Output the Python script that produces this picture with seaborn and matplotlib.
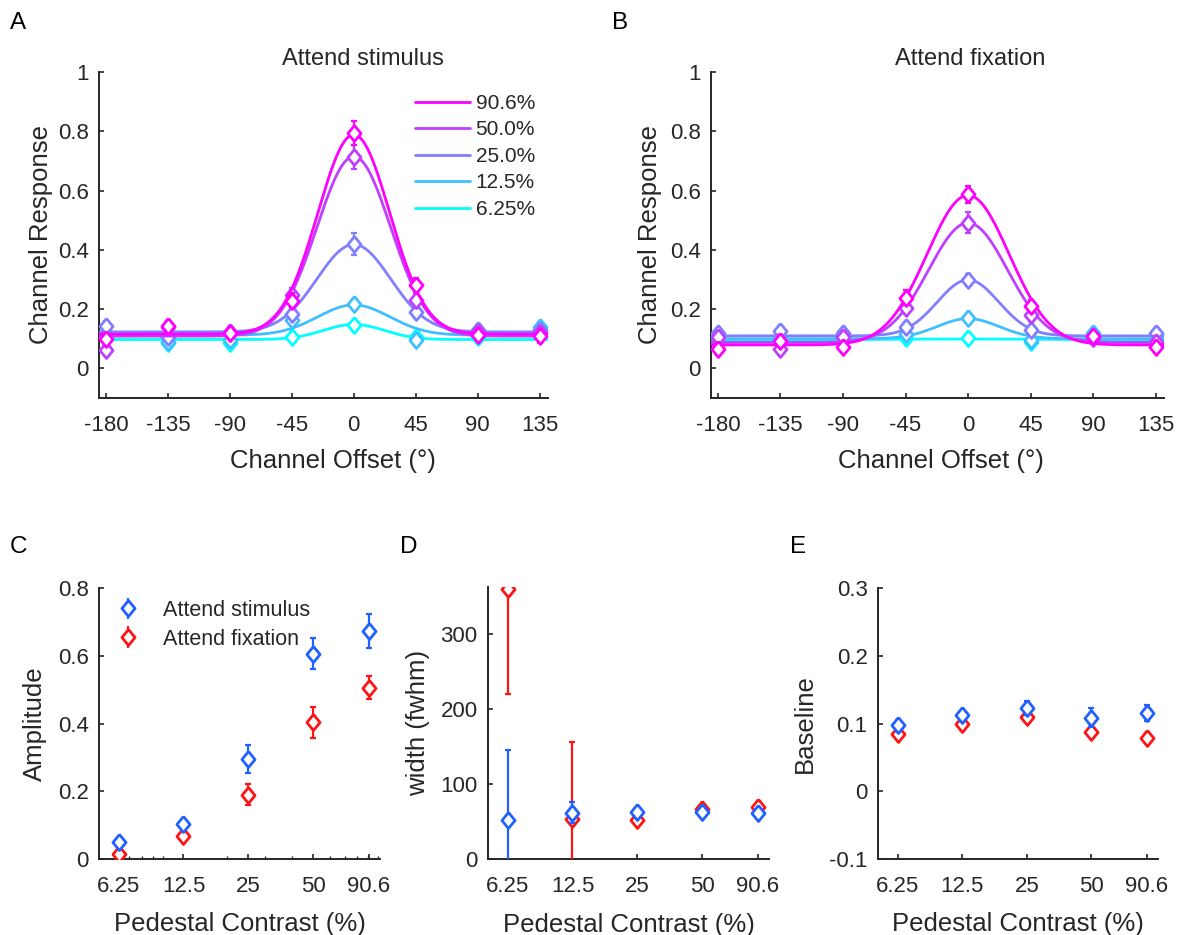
import numpy as np
import pandas as pd
import matplotlib
matplotlib.use("Agg")
import matplotlib.pyplot as plt
import seaborn as sns
from matplotlib.lines import Line2D
from matplotlib.ticker import FixedLocator, FuncFormatter, LogLocator, NullLocator

# ---------------- data ----------------
offsets = [-180, -135, -90, -45, 0, 45, 90, 135]
contrast_labels = ["6.25%", "12.5%", "25.0%", "50.0%", "90.6%"]
contrasts = [6.25, 12.5, 25, 50, 90.6]
contrast_ticklabels = ["6.25", "12.5", "25", "50", "90.6"]

# Panel A: attend stimulus channel responses (mean, sem)
stim_625 = [0.107, 0.087, 0.087, 0.107, 0.146, 0.105, 0.107, 0.124]
stim_125 = [0.120, 0.090, 0.095, 0.163, 0.216, 0.095, 0.118, 0.140]
stim_250 = [0.144, 0.107, 0.120, 0.185, 0.420, 0.190, 0.130, 0.130]
stim_500 = [0.062, 0.140, 0.124, 0.247, 0.713, 0.230, 0.124, 0.118]
stim_906 = [0.098, 0.143, 0.120, 0.228, 0.794, 0.281, 0.111, 0.109]
stim_625_err = [0.010, 0.010, 0.010, 0.010, 0.015, 0.012, 0.010, 0.012]
stim_125_err = [0.012, 0.010, 0.010, 0.012, 0.015, 0.012, 0.012, 0.015]
stim_250_err = [0.015, 0.012, 0.012, 0.020, 0.036, 0.020, 0.015, 0.015]
stim_500_err = [0.015, 0.015, 0.015, 0.025, 0.040, 0.025, 0.015, 0.018]
stim_906_err = [0.020, 0.018, 0.015, 0.025, 0.040, 0.025, 0.020, 0.025]

# Panel B: attend fixation channel responses (mean, sem)
fix_625 = [0.090, 0.096, 0.096, 0.101, 0.103, 0.090, 0.107, 0.098]
fix_125 = [0.101, 0.107, 0.109, 0.116, 0.169, 0.096, 0.118, 0.112]
fix_250 = [0.118, 0.127, 0.118, 0.140, 0.298, 0.131, 0.107, 0.120]
fix_500 = [0.107, 0.064, 0.105, 0.202, 0.491, 0.180, 0.101, 0.090]
fix_906 = [0.064, 0.093, 0.073, 0.239, 0.587, 0.211, 0.109, 0.071]
fix_625_err = [0.010, 0.010, 0.010, 0.010, 0.010, 0.010, 0.010, 0.010]
fix_125_err = [0.012, 0.012, 0.010, 0.012, 0.015, 0.012, 0.012, 0.012]
fix_250_err = [0.015, 0.015, 0.012, 0.015, 0.020, 0.015, 0.015, 0.015]
fix_500_err = [0.015, 0.018, 0.015, 0.020, 0.035, 0.020, 0.015, 0.018]
fix_906_err = [0.020, 0.018, 0.015, 0.025, 0.030, 0.020, 0.018, 0.020]

# Panels C-E: fitted parameters (mean, sem)
amp_stim = [0.051, 0.102, 0.295, 0.606, 0.673]
amp_stim_err = [0.010, 0.012, 0.042, 0.046, 0.049]
amp_fix = [0.014, 0.068, 0.189, 0.403, 0.505]
amp_fix_err = [0.010, 0.010, 0.031, 0.045, 0.034]

width_stim = [52, 61.6, 63, 63, 61.6]
width_stim_err = [93, 14, 3, 4, 4]
width_fix = [360, 52.7, 52, 67, 69.6]
width_fix_err = [140, 103, 3, 3, 3]

base_stim = [0.0973, 0.112, 0.123, 0.1086, 0.1155]
base_stim_err = [0.008, 0.007, 0.010, 0.014, 0.012]
base_fix = [0.085, 0.0998, 0.1096, 0.0875, 0.079]
base_fix_err = [0.006, 0.010, 0.008, 0.008, 0.007]

# ---------------- style ----------------
sns.set_theme(style="ticks")
TXT = "#262626"
plt.rcParams["font.family"] = ["Liberation Sans", "DejaVu Sans"]
plt.rcParams.update({
    "axes.unicode_minus": False,
    "text.color": TXT,
    "axes.labelcolor": TXT,
    "axes.edgecolor": TXT,
    "xtick.color": TXT,
    "ytick.color": TXT,
    "axes.linewidth": 1.4,
    "xtick.direction": "in",
    "ytick.direction": "in",
    "xtick.major.size": 3.5,
    "ytick.major.size": 3.5,
    "xtick.minor.size": 2.0,
    "xtick.major.width": 1.2,
    "ytick.major.width": 1.2,
    "xtick.minor.width": 1.0,
    "xtick.major.pad": 12.5,
    "xtick.minor.pad": 12.5,
    "ytick.major.pad": 7.5,
    "xtick.labelsize": 16,
    "ytick.labelsize": 16,
    "axes.labelsize": 18.5,
})

cool = plt.get_cmap("cool")
palette = {lab: cool(i / 4) for i, lab in enumerate(contrast_labels)}
BLUE = "#2161FF"
RED = "#FF1414"
DIAMOND = [(0, 1), (0.82, 0), (0, -1), (-0.82, 0), (0, 1)]
MS = 11.5
MEW = 2.0

W, H = 1194, 935
fig = plt.figure(figsize=(W / 100, H / 100), dpi=100)


def px_axes(l, t, r, b):
    return fig.add_axes([l / W, 1 - b / H, (r - l) / W, (b - t) / H])


gfmt = FuncFormatter(lambda v, p: "%g" % v)


def gauss(x, base, amp, fwhm):
    return base + amp * np.exp(-4 * np.log(2) * x ** 2 / fwhm ** 2)


def tuning_panel(ax, pts, errs, amps, widths, bases, title, title_x, ylab_x, xlab_x):
    xgrid = np.linspace(-185, 141, 500)
    frames = []
    for i, lab in enumerate(contrast_labels):
        frames.append(pd.DataFrame({
            "offset": xgrid,
            "resp": gauss(xgrid, bases[i], amps[i], widths[i]),
            "contrast": lab,
        }))
    curves = pd.concat(frames, ignore_index=True)
    for i, lab in enumerate(contrast_labels):
        sns.lineplot(data=curves[curves["contrast"] == lab], x="offset", y="resp",
                     color=palette[lab], lw=2.0, ax=ax, legend=False,
                     estimator=None, zorder=2 + 2 * i)
        ax.errorbar(offsets, pts[i], yerr=errs[i], fmt="none", ecolor=palette[lab],
                    elinewidth=1.6, capsize=2.2, capthick=1.6, zorder=3 + 2 * i)
        ax.plot(offsets, pts[i], ls="none", marker=DIAMOND, ms=MS, mfc="white",
                mec=palette[lab], mew=MEW, zorder=3 + 2 * i)
    ax.set_xlim(-185, 141)
    ax.set_ylim(-0.1, 1.0)
    ax.xaxis.set_major_locator(FixedLocator(offsets))
    ax.yaxis.set_major_locator(FixedLocator([0, 0.2, 0.4, 0.6, 0.8, 1.0]))
    ax.xaxis.set_major_formatter(gfmt)
    ax.yaxis.set_major_formatter(gfmt)
    ax.set_xlabel("Channel Offset (°)")
    ax.set_ylabel("Channel Response")
    ax.yaxis.set_label_coords(ylab_x, 0.5)
    ax.xaxis.set_label_coords(xlab_x, -0.157)
    ax.text(title_x, 1.021, title, transform=ax.transAxes, ha="center",
            va="baseline", fontsize=17, color=TXT)
    sns.despine(ax=ax)


def param_panel(ax, stim, stim_err, fix, fix_err, ylim, yticks, ylabel, ylab_x, minor=False):
    ax.set_xscale("log")
    for vals, errs, col, z in [(fix, fix_err, RED, 3), (stim, stim_err, BLUE, 4)]:
        ax.errorbar(contrasts, vals, yerr=errs, fmt="none", ecolor=col,
                    elinewidth=1.6, capsize=2.2, capthick=1.6, zorder=z)
        ax.plot(contrasts, vals, ls="none", marker=DIAMOND, ms=MS, mfc="white",
                mec=col, mew=MEW, zorder=z)
    ax.set_xlim(5.07, 102)
    ax.set_ylim(*ylim)
    ax.xaxis.set_major_locator(FixedLocator(contrasts))
    ax.xaxis.set_major_formatter(FuncFormatter(
        lambda v, p: contrast_ticklabels[contrasts.index(v)] if v in contrasts else ""))
    if minor:
        ax.xaxis.set_minor_locator(LogLocator(base=10, subs=np.arange(1, 10)))
    else:
        ax.xaxis.set_minor_locator(NullLocator())
    ax.xaxis.set_minor_formatter(FuncFormatter(lambda v, p: ""))
    ax.yaxis.set_major_locator(FixedLocator(yticks))
    ax.yaxis.set_major_formatter(gfmt)
    ax.set_xlabel("Pedestal Contrast (%)")
    ax.set_ylabel(ylabel)
    ax.yaxis.set_label_coords(ylab_x, 0.5)
    ax.xaxis.set_label_coords(0.5, -0.197)
    sns.despine(ax=ax)


# ---------------- panels A, B ----------------
axA = px_axes(99, 72, 548, 398)
tuning_panel(axA, [stim_625, stim_125, stim_250, stim_500, stim_906],
             [stim_625_err, stim_125_err, stim_250_err, stim_500_err, stim_906_err],
             amp_stim, width_stim, base_stim, "Attend stimulus", 0.588, -0.103, 0.52)
handles = [Line2D([], [], color=palette[lab], lw=2.0) for lab in contrast_labels[::-1]]
axA.legend(handles, contrast_labels[::-1], loc="upper left", bbox_to_anchor=(0.704, 0.933),
           frameon=False, fontsize=15, borderpad=0, borderaxespad=0,
           handlelength=2.65, handletextpad=0.25, labelspacing=0.36)

axB = px_axes(711, 72, 1164, 398)
tuning_panel(axB, [fix_625, fix_125, fix_250, fix_500, fix_906],
             [fix_625_err, fix_125_err, fix_250_err, fix_500_err, fix_906_err],
             amp_fix, width_fix, base_fix, "Attend fixation", 0.572, -0.109, 0.508)

# ---------------- panels C, D, E ----------------
axC = px_axes(99, 588, 380, 859)
param_panel(axC, amp_stim, amp_stim_err, amp_fix, amp_fix_err, (0, 0.8),
            [0, 0.2, 0.4, 0.6, 0.8], "Amplitude", -0.186, minor=True)
leg_handles = []
for col in [BLUE, RED]:
    eb = axC.errorbar([], [], yerr=[], fmt="none", ecolor=col, elinewidth=1.6,
                      capsize=2.2, capthick=1.6)
    mk = Line2D([], [], ls="none", marker=DIAMOND, ms=MS, mfc="white", mec=col, mew=MEW)
    leg_handles.append((eb, mk))
axC.legend(leg_handles, ["Attend stimulus", "Attend fixation"], loc="upper left",
           bbox_to_anchor=(0.059, 0.956), frameon=False, fontsize=15.5, borderpad=0,
           borderaxespad=0, handlelength=1.2, handletextpad=1.0, labelspacing=0.36)

axD = px_axes(488, 587, 769, 859)
param_panel(axD, width_stim, width_stim_err, width_fix, width_fix_err, (0, 362),
            [0, 100, 200, 300], "width (fwhm)", -0.206)

axE = px_axes(878, 588, 1158, 859)
param_panel(axE, base_stim, base_stim_err, base_fix, base_fix_err, (-0.1, 0.3),
            [-0.1, 0, 0.1, 0.2, 0.3], "Baseline", -0.218)

# panel letters
for letter, x, y in [("A", 10, 29), ("B", 612, 29), ("C", 10, 553), ("D", 400, 553), ("E", 790, 553)]:
    fig.text(x / W, 1 - y / H, letter, fontsize=17.5, color="black", va="baseline", ha="left")

fig.savefig("out.png", dpi=100, facecolor="white")
